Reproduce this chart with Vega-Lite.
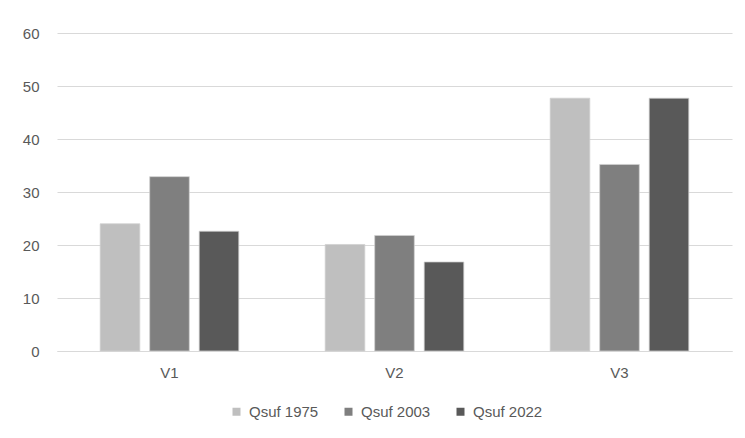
{
  "$schema": "https://vega.github.io/schema/vega-lite/v6.json",
  "autosize": "none",
  "width": 675,
  "height": 318,
  "padding": {"left": 57, "top": 33, "right": 13, "bottom": 87},
  "background": "white",
  "data": {
    "values": [
      {"group": "V1", "series": "Qsuf 1975", "value": 24.0},
      {"group": "V1", "series": "Qsuf 2003", "value": 32.9},
      {"group": "V1", "series": "Qsuf 2022", "value": 22.6},
      {"group": "V2", "series": "Qsuf 1975", "value": 20.1},
      {"group": "V2", "series": "Qsuf 2003", "value": 21.8},
      {"group": "V2", "series": "Qsuf 2022", "value": 16.8},
      {"group": "V3", "series": "Qsuf 1975", "value": 47.7},
      {"group": "V3", "series": "Qsuf 2003", "value": 35.2},
      {"group": "V3", "series": "Qsuf 2022", "value": 47.7}
    ]
  },
  "mark": {"type": "bar", "stroke": "#d0d0d0", "strokeWidth": 0.75},
  "encoding": {
    "x": {
      "field": "group",
      "type": "nominal",
      "title": null,
      "scale": {"paddingInner": 0.34, "paddingOuter": 0.17},
      "axis": {
        "labelAngle": 0,
        "ticks": false,
        "domainColor": "#d9d9d9",
        "labelPadding": 14
      }
    },
    "xOffset": {
      "field": "series",
      "type": "nominal",
      "scale": {"paddingInner": 0.2, "paddingOuter": 0.1}
    },
    "y": {
      "field": "value",
      "type": "quantitative",
      "title": null,
      "scale": {"domain": [0, 60], "nice": false},
      "axis": {
        "values": [0, 10, 20, 30, 40, 50, 60],
        "domain": false,
        "ticks": false,
        "labelPadding": 18,
        "gridColor": "#d9d9d9",
        "gridWidth": 1
      }
    },
    "color": {
      "field": "series",
      "type": "nominal",
      "title": null,
      "scale": {
        "domain": ["Qsuf 1975", "Qsuf 2003", "Qsuf 2022"],
        "range": ["#bfbfbf", "#7f7f7f", "#595959"]
      },
      "legend": {
        "orient": "none",
        "legendX": 172,
        "legendY": 371,
        "direction": "horizontal",
        "symbolType": "square",
        "symbolSize": 64,
        "symbolStrokeWidth": 0,
        "columnPadding": 22,
        "labelOffset": 5
      }
    }
  },
  "config": {
    "view": {"stroke": null},
    "font": "Liberation Sans",
    "axis": {"labelFont": "Liberation Sans", "labelFontSize": 15, "labelColor": "#595959"},
    "legend": {"labelFont": "Liberation Sans", "labelFontSize": 15, "labelColor": "#595959"}
  }
}
